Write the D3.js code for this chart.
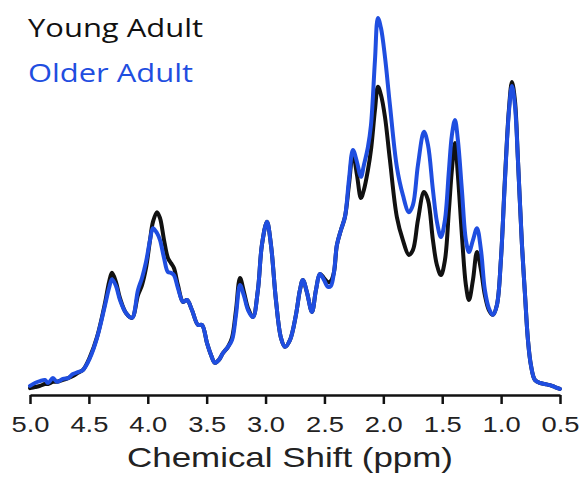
<!DOCTYPE html>
<html lang="en">
  <head>
    <meta charset="UTF-8">
    <title>Chemical Shift Spectra</title>
    <script src="https://d3js.org/d3.v7.min.js"></script>
    <style>
      body {
        margin: 0;
        padding: 0;
        background-color: #fff;
      }

      svg {
        display: block;
      }

      .axis path,
      .axis line {
        fill: none;
        stroke: #111;
        stroke-width: 2.5;
      }

      .axis text {
        font-family: 'Liberation Sans', Arial, sans-serif;
        font-size: 22px;
        fill: #222;
      }

      .axis-title {
        font-family: 'Liberation Sans', Arial, sans-serif;
        font-size: 28px;
        fill: #222;
      }

      .legend {
        font-family: 'Open Sans', 'Noto Sans', sans-serif;
        font-size: 26px;
        font-weight: 500;
      }

      .spectrum {
        fill: none;
        stroke-width: 4;
        stroke-linejoin: round;
        stroke-linecap: round;
      }
    </style>
  </head>
  <body>
    <script>
      // chemical shift (ppm) sample positions
      const ppm = [
        5.000, 4.958, 4.915, 4.873, 4.847, 4.805, 4.771, 4.720, 4.677, 4.635,
        4.593, 4.550, 4.491, 4.431, 4.363, 4.329, 4.304, 4.270, 4.236, 4.185,
        4.134, 4.083, 4.049, 4.015, 3.981, 3.956, 3.922, 3.896, 3.862, 3.829,
        3.803, 3.778, 3.744, 3.701, 3.667, 3.625, 3.574, 3.540, 3.497, 3.463,
        3.430, 3.396, 3.362, 3.319, 3.285, 3.251, 3.217, 3.183, 3.149, 3.107,
        3.065, 3.031, 2.988, 2.954, 2.912, 2.869, 2.835, 2.793, 2.742, 2.708,
        2.683, 2.649, 2.606, 2.572, 2.538, 2.504, 2.470, 2.445, 2.419, 2.394,
        2.360, 2.326, 2.292, 2.258, 2.224, 2.190, 2.165, 2.131, 2.105, 2.071,
        2.046, 2.020, 1.986, 1.944, 1.885, 1.834, 1.783, 1.749, 1.706, 1.655,
        1.621, 1.579, 1.545, 1.511, 1.477, 1.443, 1.418, 1.392, 1.367, 1.333,
        1.299, 1.273, 1.239, 1.205, 1.171, 1.138, 1.104, 1.070, 1.036, 1.002,
        0.968, 0.934, 0.908, 0.883, 0.857, 0.823, 0.798, 0.772, 0.747, 0.713,
        0.671, 0.628, 0.586, 0.543, 0.501
      ];

      const youngAdult = [
        0.5, 0.8, 1.1, 1.6, 1.6, 2.2, 2.2, 2.7, 3.2, 3.8,
        4.6, 5.4, 8.9, 14.2, 23.4, 29.0, 31.5, 29.0, 24.7, 20.7,
        19.4, 25.5, 28.2, 32.8, 40.3, 45.2, 47.8, 46.2, 40.3, 35.5,
        34.1, 32.8, 28.2, 23.7, 24.2, 21.5, 17.5, 17.5, 12.6, 9.4,
        7.3, 8.1, 9.9, 11.6, 14.0, 21.5, 30.1, 26.3, 22.0, 19.6,
        26.9, 39.0, 45.2, 39.0, 24.2, 14.0, 11.6, 13.4, 20.2, 26.9,
        29.6, 26.3, 21.0, 26.9, 31.2, 30.1, 29.0, 29.3, 31.7, 39.0,
        43.0, 46.5, 55.1, 63.7, 57.8, 51.6, 53.8, 59.1, 64.5, 75.3,
        81.5, 79.3, 73.4, 61.8, 46.5, 40.3, 36.3, 37.6, 45.7, 53.2,
        51.1, 40.3, 33.6, 30.9, 34.9, 48.4, 59.1, 66.4, 57.8, 41.7,
        28.2, 24.2, 29.6, 37.1, 32.3, 25.5, 21.5, 20.2, 22.8, 34.9,
        56.5, 75.3, 82.8, 78.0, 61.8, 39.0, 26.1, 13.4, 6.7, 2.7,
        1.9, 1.6, 1.3, 0.8, 0.3
      ];

      const olderAdult = [
        1.1, 1.9, 2.4, 2.7, 1.9, 3.2, 2.2, 3.0, 3.2, 4.3,
        4.8, 5.4, 8.6, 14.0, 22.8, 27.4, 29.8, 28.0, 24.2, 20.7,
        19.4, 26.9, 30.1, 34.4, 40.3, 43.5, 42.2, 40.3, 35.5, 31.7,
        31.5, 30.9, 27.4, 23.7, 24.2, 21.5, 17.5, 17.5, 12.6, 9.4,
        7.3, 8.1, 9.9, 11.6, 13.4, 20.2, 28.2, 25.3, 21.5, 19.6,
        26.9, 39.0, 45.2, 39.0, 24.2, 14.0, 11.6, 13.4, 20.2, 26.9,
        29.6, 26.3, 21.0, 26.9, 31.2, 29.6, 27.7, 28.0, 31.7, 39.0,
        43.0, 46.5, 56.5, 64.5, 61.3, 57.3, 60.5, 65.3, 71.2, 88.7,
        100.0, 97.3, 89.5, 76.6, 59.9, 52.4, 47.8, 49.7, 60.5, 69.4,
        65.9, 53.8, 45.2, 41.1, 45.7, 59.1, 68.5, 72.6, 67.2, 53.8,
        40.3, 37.1, 40.3, 43.5, 37.6, 26.9, 22.0, 20.2, 22.8, 34.9,
        55.9, 74.7, 81.7, 76.6, 61.8, 39.0, 26.1, 13.4, 6.7, 2.7,
        1.9, 1.6, 1.3, 0.8, 0.3
      ];

      const tickValues = [5.0, 4.5, 4.0, 3.5, 3.0, 2.5, 2.0, 1.5, 1.0, 0.5];
      const seriesNames = ["Young Adult", "Older Adult"];
      const seriesColors = ["#111111", "#1f4ee0"];

      const width = 583, height = 478;
      const svg = d3.select("body").append("svg").attr("width", width).attr("height", height);

      const xScale = d3.scaleLinear().domain([5.0, 0.5]).range([30, 560]);
      const yScale = d3.scaleLinear().domain([0, 100]).range([390, 18]);

      const line = d3.line()
        .x(d => xScale(d[0]))
        .y(d => yScale(d[1]))
        .curve(d3.curveCatmullRom.alpha(0.5));

      [youngAdult, olderAdult].forEach((values, i) => {
        svg.append("path")
          .attr("class", "spectrum")
          .attr("d", line(ppm.map((p, j) => [p, values[j]])))
          .style("stroke", seriesColors[i]);
      });

      const xAxis = svg.append("g").attr("class", "axis").attr("transform", "translate(0,395)")
        .call(d3.axisBottom(xScale).tickValues(tickValues).tickSize(9).tickSizeOuter(0).tickFormat(d3.format(".1f")));
      xAxis.selectAll("text").attr("dy", 0).attr("y", 37)
        .attr("textLength", 38).attr("lengthAdjust", "spacingAndGlyphs");

      svg.append("text").attr("class", "axis-title")
        .attr("x", 290).attr("y", 467).attr("text-anchor", "middle")
        .attr("textLength", 326).attr("lengthAdjust", "spacingAndGlyphs")
        .text("Chemical Shift (ppm)");

      const legendY = [37, 82];
      const legendW = [175, 165];
      seriesNames.forEach((name, i) => {
        svg.append("text").attr("class", "legend")
          .attr("x", 28).attr("y", legendY[i])
          .attr("textLength", legendW[i]).attr("lengthAdjust", "spacingAndGlyphs")
          .style("fill", seriesColors[i])
          .text(name);
      });
    </script>
  </body>
</html>
